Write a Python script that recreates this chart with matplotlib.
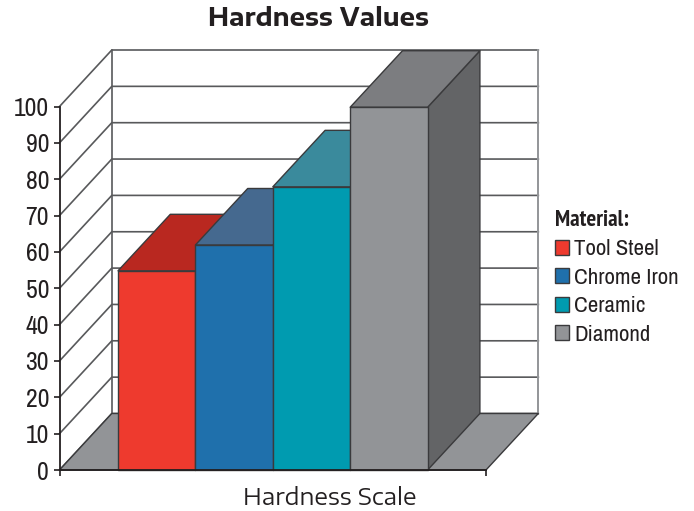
import numpy as np
import matplotlib
matplotlib.use('Agg')
import matplotlib.pyplot as plt
from matplotlib.patches import Polygon, Patch

materials = ['Tool Steel', 'Chrome Iron', 'Ceramic', 'Diamond']
hardness = [54.8, 61.9, 77.9, 99.8]
yticks = list(range(0, 101, 10))

front_colors = ['#EE3A2E', '#1F70AC', '#009BB0', '#929497']
top_colors = ['#B92820', '#45698F', '#3A8A9C', '#7C7D80']
side_colors = ['#8E1F18', '#2A4F78', '#2A6C7C', '#636466']
edge = '#3A3A3C'
grid = '#58595B'

W, H = 694, 511
fig = plt.figure(figsize=(W / 100, H / 100), dpi=100)
ax = fig.add_axes([59.5 / W, 1 - 470 / H, 426.5 / W, 363.5 / H])

# bar i runs from i to i+1 on x, the rest is the gap either side
slot = 77.4
x0 = -58.5 / slot
x1 = 4 + 58.4 / slot
ax.set_xlim(x0, x1)
ax.set_ylim(0, 100)

# depth of the fake 3d, in data units
dx = 52.3 / slot
dy = 56.5 * 100 / 363.5


def poly(pts, fc, ec=edge, lw=1.0, z=2):
    ax.add_patch(Polygon(pts, closed=True, fc=fc, ec=ec, lw=lw, zorder=z, clip_on=False, joinstyle='round'))


# floor
poly([(x0, 0), (x0 + dx, dy), (x1 + dx, dy), (x1, 0)], '#929497', z=1.5)

# walls
for v in yticks:
    ax.plot([x0, x0 + dx, x1 + dx], [v, v + dy, v + dy], color=grid, lw=1.2, zorder=1, clip_on=False)
ax.plot([x0 + dx, x0 + dx], [dy, 100 + dy], color=grid, lw=1.2, zorder=1, clip_on=False)
ax.plot([x1 + dx, x1 + dx], [dy, 100 + dy], color='#939598', lw=1.4, zorder=1, clip_on=False)

# bars
for i, v in enumerate(hardness):
    poly([(i + 1, 0), (i + 1 + dx, dy), (i + 1 + dx, v + dy), (i + 1, v)], side_colors[i], z=2 + i)
    poly([(i, v), (i + dx, v + dy), (i + 1 + dx, v + dy), (i + 1, v)], top_colors[i], z=2 + i)
    poly([(i, 0), (i + 1, 0), (i + 1, v), (i, v)], front_colors[i], z=2 + i)

fam_narrow = ['Archivo Narrow', 'Liberation Sans']
fam_narrow_bold = ['PT Sans Narrow', 'Liberation Sans']
fam_wide = ['Encode Sans Expanded', 'DejaVu Sans']

for s in ['top', 'right']:
    ax.spines[s].set_visible(False)
for s in ['left', 'bottom']:
    ax.spines[s].set_color('#231F20')
    ax.spines[s].set_linewidth(1.3)
    ax.spines[s].set_zorder(10)

ax.set_yticks(yticks)
ax.set_xticks([x0, x1])
ax.set_xticklabels(['', ''])
ax.tick_params(axis='both', direction='out', length=4.5, width=1.2, color='#231F20')
ax.tick_params(axis='y', pad=3, labelsize=18.5, labelcolor='#231F20')
for t in ax.get_yticklabels():
    t.set_family(fam_narrow)

fig.text(318 / W, 1 - 19 / H, 'Hardness Values', ha='center', va='center',
         fontsize=17.5, fontweight='bold', family=fam_wide, color='#231F20')
fig.text(330 / W, 1 - 498 / H, 'Hardness Scale', ha='center', va='center',
         fontsize=16.5, family=fam_wide, color='#231F20')

handles = [Patch(fc=c, ec=edge, lw=1.0) for c in front_colors]
leg = fig.legend(handles, materials, loc='upper left', bbox_to_anchor=(548 / W, 1 - 203 / H),
                 frameon=False, prop={'family': fam_narrow, 'size': 16.5},
                 title='Material:', title_fontproperties={'family': fam_narrow_bold, 'size': 16.5, 'weight': 'bold'},
                 handlelength=0.6, handleheight=0.6, handletextpad=0.25, labelspacing=0.37,
                 borderpad=0.3, borderaxespad=0, alignment='left', labelcolor='#231F20')
leg.get_title().set_color('#231F20')

fig.savefig('out.png', dpi=100)
